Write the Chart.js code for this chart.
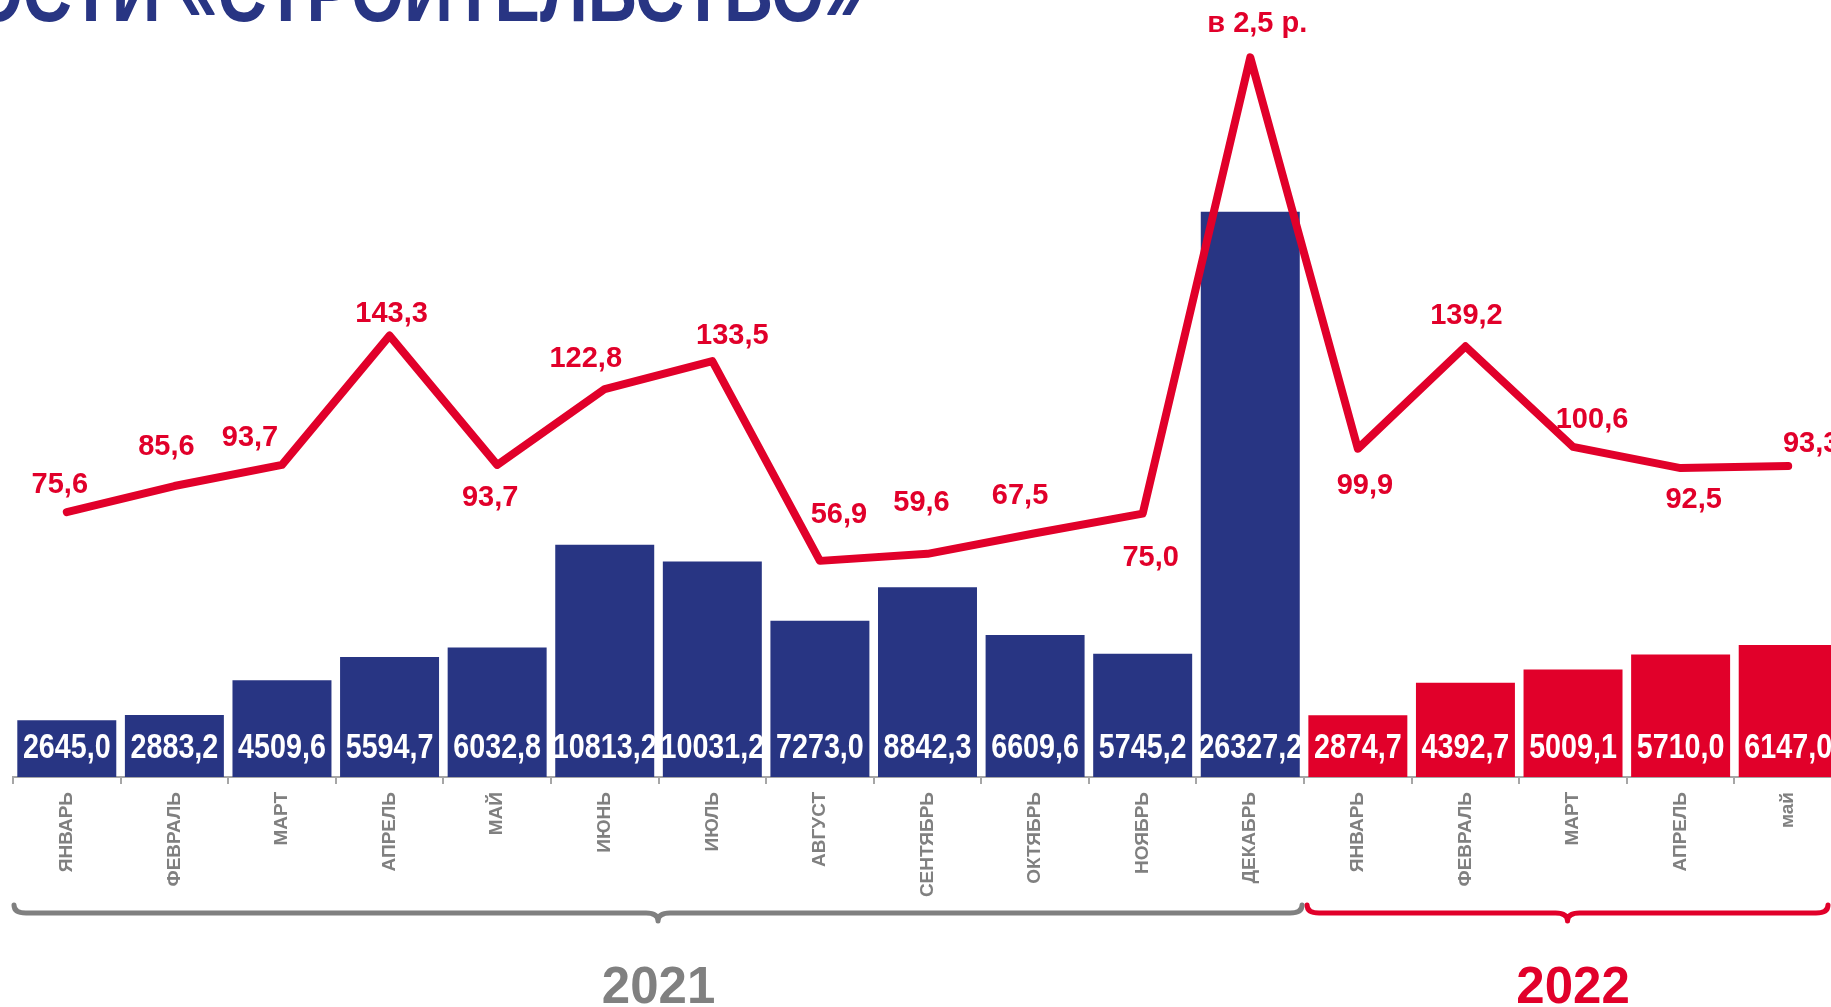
<!DOCTYPE html>
<html lang="ru">
<head>
<meta charset="UTF-8">
<title>Строительство</title>
<style>
  html, body { margin: 0; padding: 0; background: #ffffff; overflow: hidden; }
  body { width: 1831px; height: 1007px; position: relative; }
  #chartWrap { position: absolute; left: 0; top: 0; width: 1860px; height: 1007px; }
  /* Arial Narrow look: Liberation Sans squeezed horizontally */
  .title {
    position: absolute; right: 969px; top: -49px;
    font: bold 83px/83px 'Liberation Sans', Arial, sans-serif;
    color: #283583; white-space: nowrap;
    transform: scaleX(0.82); transform-origin: right center;
  }
</style>
</head>
<body>
<div id="chartWrap"><canvas id="chart" width="1860" height="1007"></canvas></div>
<div class="title">ДЕЯТЕЛЬНОСТИ «СТРОИТЕЛЬСТВО»</div>

<script src="https://cdn.jsdelivr.net/npm/chart.js@4.4.0/dist/chart.umd.min.js"></script>
<script>
    const months2021 = ['ЯНВАРЬ', 'ФЕВРАЛЬ', 'МАРТ', 'АПРЕЛЬ', 'МАЙ', 'ИЮНЬ', 'ИЮЛЬ', 'АВГУСТ', 'СЕНТЯБРЬ', 'ОКТЯБРЬ', 'НОЯБРЬ', 'ДЕКАБРЬ'];
    const months2022 = ['ЯНВАРЬ', 'ФЕВРАЛЬ', 'МАРТ', 'АПРЕЛЬ', 'май'];

    // объём работ, млн руб.
    const volume2021 = [2645.0, 2883.2, 4509.6, 5594.7, 6032.8, 10813.2, 10031.2, 7273.0, 8842.3, 6609.6, 5745.2, 26327.2];
    const volume2022 = [2874.7, 4392.7, 5009.1, 5710.0, 6147.0];

    // темп к соответствующему месяцу прошлого года, %
    const growth2021 = [75.6, 85.6, 93.7, 143.3, 93.7, 122.8, 133.5, 56.9, 59.6, 67.5, 75.0, 250.0];
    const growth2022 = [99.9, 139.2, 100.6, 92.5, 93.3];

    const years = ['2021', '2022'];

    // where each growth label sits relative to its point (px)
    const growthLabelOffsets = [
        [-7, -27], [-8, -39], [-32, -27], [2, -22], [-7, 33], [-19, -30],
        [20, -25], [19, -46], [-6, -51], [-15, -37], [8, 44], [7, -33],
        [7, 37], [1, -30], [19, -27], [13, 32], [23, -22]
    ];

    const NAVY = '#283583';
    const RED = '#E1002A';
    const GRAY = '#808080';

    const labels = months2021.concat(months2022);
    const volumes = volume2021.concat(volume2022);
    const growth = growth2021.concat(growth2022);
    const barColors = labels.map((_, i) => i < months2021.length ? NAVY : RED);

    const fmt = v => v.toFixed(1).replace('.', ',');

    function narrowText(ctx, text, x, y) {
        ctx.save();
        ctx.font = 'bold 35px "Liberation Sans", Arial, sans-serif';
        ctx.translate(x, y);
        ctx.scale(0.82, 1);
        ctx.fillText(text, 0, 0);
        ctx.restore();
    }

    const valueLabels = {
        id: 'valueLabels',
        afterDatasetsDraw(chart) {
            const ctx = chart.ctx;
            ctx.save();
            ctx.textAlign = 'center';
            ctx.textBaseline = 'middle';

            ctx.fillStyle = '#ffffff';
            chart.getDatasetMeta(1).data.forEach((bar, i) => {
                narrowText(ctx, fmt(volumes[i]), bar.x, bar.base - 29);
            });

            ctx.fillStyle = RED;
            ctx.font = 'bold 29px "Liberation Sans", Arial, sans-serif';
            chart.getDatasetMeta(0).data.forEach((p, i) => {
                const v = growth[i];
                const txt = v >= 200 ? 'в ' + fmt(v / 100) + ' р.' : fmt(v);
                const off = growthLabelOffsets[i];
                ctx.fillText(txt, p.x + off[0], p.y + off[1]);
            });
            ctx.restore();
        }
    };

    function brace(ctx, x1, x2, y) {
        const xc = (x1 + x2) / 2, r = 12, h = 8;
        ctx.beginPath();
        ctx.moveTo(x1, y - h);
        ctx.quadraticCurveTo(x1, y, x1 + r, y);
        ctx.lineTo(xc - r, y);
        ctx.quadraticCurveTo(xc, y, xc, y + h);
        ctx.quadraticCurveTo(xc, y, xc + r, y);
        ctx.lineTo(x2 - r, y);
        ctx.quadraticCurveTo(x2, y, x2, y - h);
        ctx.stroke();
    }

    const yearBraces = {
        id: 'yearBraces',
        afterDraw(chart) {
            const x = chart.scales.x;
            const ctx = chart.ctx;
            const step = x.getPixelForValue(1) - x.getPixelForValue(0);
            const edge = i => x.getPixelForValue(0) - step / 2 + step * i;
            const n1 = months2021.length, n = labels.length;
            const groups = [
                { a: edge(0), b: edge(n1), from: edge(0) + 1, to: edge(n1) - 2, color: GRAY },
                { a: edge(n1), b: edge(n), from: edge(n1) + 3, to: Math.min(edge(n), 1828), color: RED }
            ];
            ctx.save();
            ctx.lineWidth = 5;
            ctx.lineCap = 'round';
            ctx.lineJoin = 'round';
            ctx.textAlign = 'center';
            ctx.textBaseline = 'alphabetic';
            ctx.font = 'bold 51px "Liberation Sans", Arial, sans-serif';
            groups.forEach((g, k) => {
                ctx.strokeStyle = g.color;
                brace(ctx, g.from, g.to, 913);
                ctx.fillStyle = g.color;
                ctx.fillText(years[k], (g.a + g.b) / 2, 1003);
            });
            ctx.restore();
        }
    };

    const ctx = document.getElementById('chart');
    const mainChart = new Chart(ctx, {
        data: {
            labels: labels,
            datasets: [
                {
                    type: 'line',
                    data: growth,
                    yAxisID: 'y2',
                    borderColor: RED,
                    borderWidth: 8,
                    borderCapStyle: 'round',
                    borderJoinStyle: 'round',
                    pointRadius: 0,
                    tension: 0,
                    order: 0
                },
                {
                    type: 'bar',
                    data: volumes,
                    yAxisID: 'y',
                    backgroundColor: barColors,
                    barPercentage: 0.92,
                    categoryPercentage: 1,
                    order: 1
                }
            ]
        },
        options: {
            responsive: false,
            animation: false,
            layout: { padding: { left: 13, right: 18, top: 47, bottom: 0 } },
            plugins: { legend: { display: false }, tooltip: { enabled: false } },
            scales: {
                x: {
                    offset: true,
                    grid: { display: true, drawOnChartArea: false, offset: true, tickLength: 7, color: '#a6a6a6', lineWidth: 2 },
                    border: { color: '#a6a6a6', width: 2 },
                    ticks: {
                        autoSkip: false, maxRotation: 90, minRotation: 90, padding: 8,
                        color: GRAY,
                        font: { family: '"Liberation Sans", Arial, sans-serif', weight: 'bold', size: 19 }
                    },
                    afterFit: s => { s.height = 230; }
                },
                y: { display: false, min: 0, max: 34000 },
                y2: { display: false, min: -26, max: 254 }
            }
        },
        plugins: [valueLabels, yearBraces]
    });
</script>
</body>
</html>
